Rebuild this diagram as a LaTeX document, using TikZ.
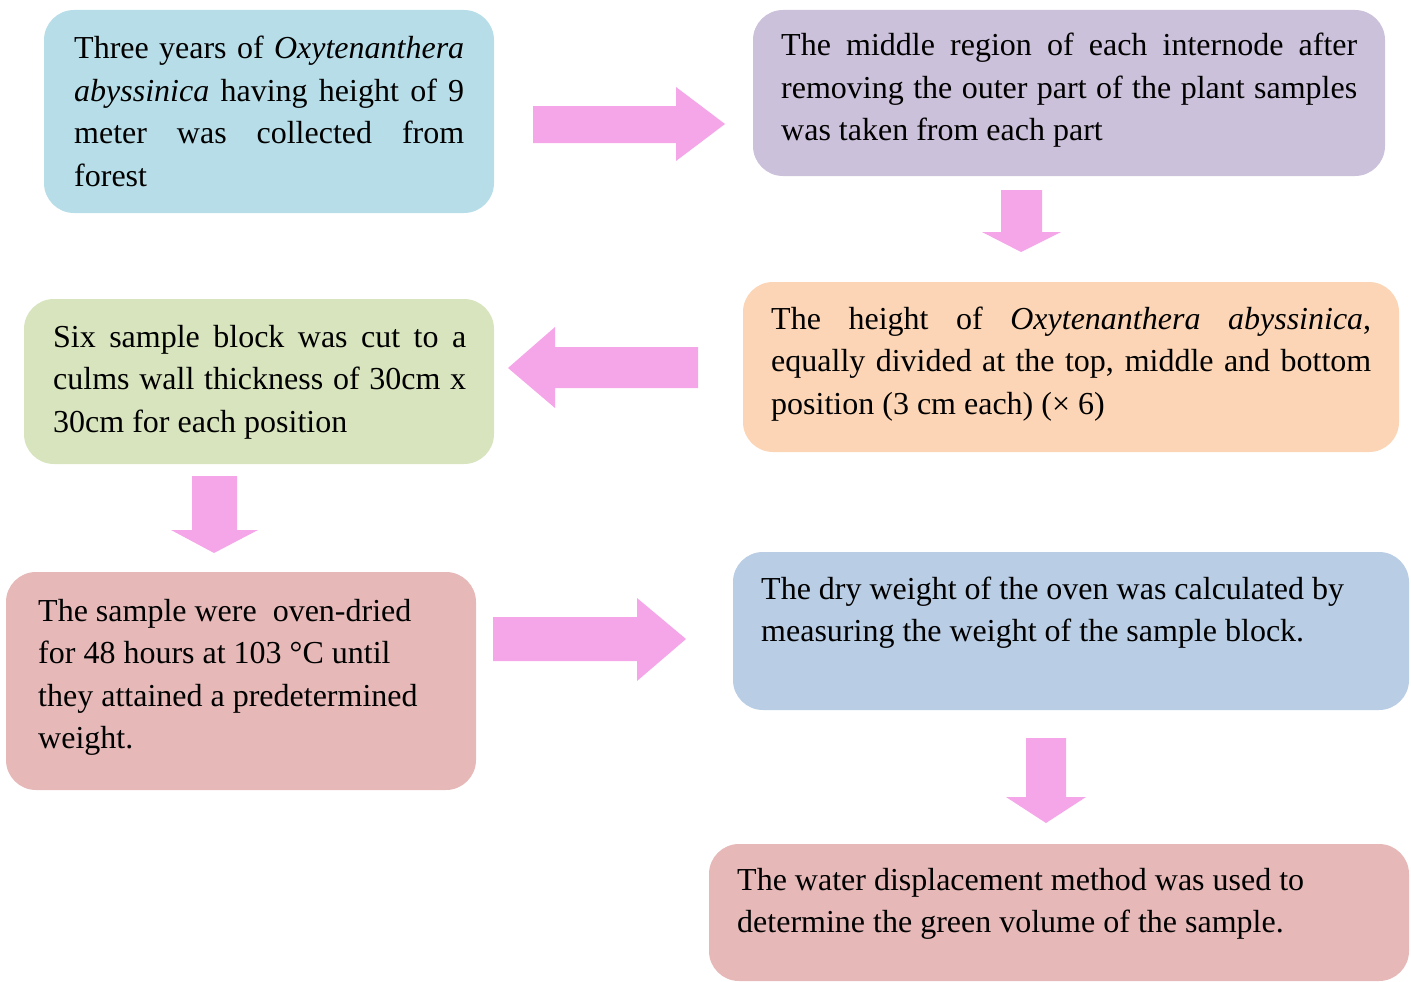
\documentclass[tikz,border=0pt]{standalone}
\usepackage{fontspec}
\setmainfont{Liberation Serif}
\definecolor{cBlue}{HTML}{B7DEE8}
\definecolor{cPurple}{HTML}{CCC1DA}
\definecolor{cOrange}{HTML}{FBD5B5}
\definecolor{cGreen}{HTML}{D7E4BD}
\definecolor{cRed}{HTML}{E6B9B8}
\definecolor{cSteel}{HTML}{B9CDE5}
\definecolor{cPink}{HTML}{F5A6E9}
\newcommand{\jl}[2]{\hbox to #1pt{#2}}
\newcommand{\fl}[1]{\hbox{#1}}
\newcommand{\lines}[1]{\vtop{\baselineskip=42.5pt #1}}
\begin{document}
\begin{tikzpicture}[x=1pt,y=-1pt,
  box/.style={rounded corners=30pt, draw=none, inner sep=0pt, minimum width=#1},
  txt/.style={anchor=base west, inner sep=0pt, font=\fontsize{32pt}{42.5pt}\selectfont},
  blockarrow/.style={fill=cPink, draw=none}]
\useasboundingbox (0,0) rectangle (1411,982);
% boxes
\node[box=450pt, fill=cBlue,   minimum height=203pt] (b1) at (269,111.5) {};
\node[box=632pt, fill=cPurple, minimum height=166pt] (b2) at (1069,93) {};
\node[box=656pt, fill=cOrange, minimum height=170pt] (b3) at (1071,367) {};
\node[box=470pt, fill=cGreen,  minimum height=165pt] (b4) at (259,381.5) {};
\node[box=470pt, fill=cRed,    minimum height=218pt] (b5) at (241,681) {};
\node[box=676pt, fill=cSteel,  minimum height=158pt] (b6) at (1071,631) {};
\node[box=700pt, fill=cRed,    minimum height=137pt] (b7) at (1059,912.5) {};
% texts
\node[txt] (t1) at (74,59) {\lines{%
  \jl{390}{Three years of \textit{Oxytenanthera}}
  \jl{390}{\textit{abyssinica} having height of 9}
  \jl{390}{meter was collected from}
  \fl{forest}}};
\node[txt] (t2) at (781,56) {\lines{%
  \jl{576}{The middle region of each internode after}
  \jl{576}{removing the outer part of the plant samples}
  \fl{was taken from each part}}};
\node[txt] (t3) at (771,329) {\lines{%
  \jl{600}{The height of \textit{Oxytenanthera abyssinica},}
  \jl{600}{equally divided at the top, middle and bottom}
  \fl{position (3 cm each) (× 6)}}};
\node[txt] (t4) at (53,347) {\lines{%
  \jl{413}{Six sample block was cut to a}
  \jl{413}{culms wall thickness of 30cm x}
  \fl{30cm for each position}}};
\node[txt] (t5) at (38,621) {\lines{%
  \fl{The sample were~ oven-dried}
  \fl{for 48 hours at 103 °C until}
  \fl{they attained a predetermined}
  \fl{weight.}}};
\node[txt] (t6) at (761,599) {\lines{%
  \fl{The dry weight of the oven was calculated by}
  \fl{measuring the weight of the sample block.}}};
\node[txt] (t7) at (737,890) {\lines{%
  \fl{The water displacement method was used to}
  \fl{determine the green volume of the sample.}}};
% block arrows
\fill[blockarrow] (533,106) -- (676,106) -- (676,87) -- (725,124) -- (676,161) -- (676,143) -- (533,143) -- cycle;
\fill[blockarrow] (1001,190) -- (1042,190) -- (1042,232) -- (1061,232) -- (1021,252) -- (982,232) -- (1001,232) -- cycle;
\fill[blockarrow] (698,347) -- (555,347) -- (555,327) -- (508,368) -- (555,408) -- (555,388) -- (698,388) -- cycle;
\fill[blockarrow] (192,476) -- (237,476) -- (237,530) -- (258,530) -- (214,553) -- (171,530) -- (192,530) -- cycle;
\fill[blockarrow] (493,617) -- (637,617) -- (637,598) -- (686,639) -- (637,681) -- (637,661) -- (493,661) -- cycle;
\fill[blockarrow] (1026,738) -- (1066,738) -- (1066,797) -- (1086,797) -- (1046,823) -- (1006,797) -- (1026,797) -- cycle;
\end{tikzpicture}
\end{document}
